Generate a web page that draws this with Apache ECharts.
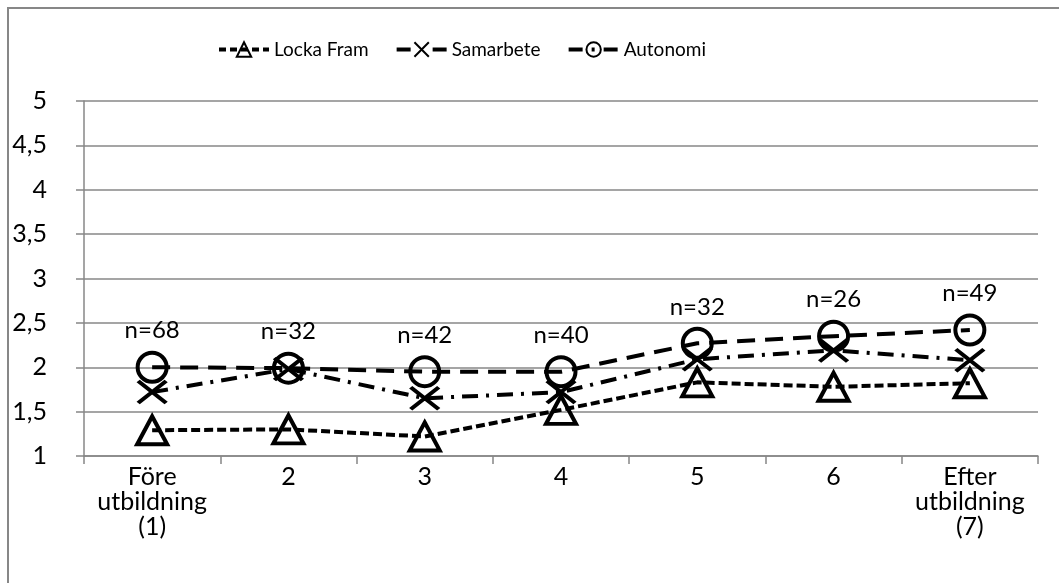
<!DOCTYPE html>
<html>
<head>
<meta charset="utf-8">
<script src="https://cdn.jsdelivr.net/npm/echarts@6/dist/echarts.min.js"></script>
<style>
  html, body { margin: 0; padding: 0; background: #fff; }
  #chart { width: 1059px; height: 583px; }
</style>
</head>
<body>
<div id="chart"></div>
<script>
// data
var categories = ['Före\nutbildning\n(1)', '2', '3', '4', '5', '6', 'Efter\nutbildning\n(7)'];
var lockaFram = [1.29, 1.30, 1.22, 1.52, 1.83, 1.78, 1.82];
var samarbete = [1.72, 1.98, 1.65, 1.72, 2.09, 2.19, 2.08];
var autonomi = [2.00, 1.99, 1.95, 1.95, 2.27, 2.35, 2.42];
var nLabels = ['n=68', 'n=32', 'n=42', 'n=40', 'n=32', 'n=26', 'n=49'];
var yTicks = { min: 1, max: 5, step: 0.5 };

var font = 'Lato, "Open Sans", sans-serif';
var gray = '#878787';
var crossPath = 'path://M0,0L10,10M10,0L0,10';
var markerStyle = { color: 'transparent', borderColor: '#000', borderWidth: 4 };

var dom = document.getElementById('chart');
var myChart = echarts.init(dom, null, { renderer: 'canvas' });

var option = {
  animation: false,
  textStyle: { fontFamily: font, color: '#000' },
  graphic: [{
    type: 'rect',
    shape: { x: 8, y: 8, width: 1070, height: 600 },
    style: { fill: 'none', stroke: gray, lineWidth: 2 },
    silent: true
  }],
  legend: {
    top: 35,
    left: 212,
    itemWidth: 50,
    itemHeight: 18,
    itemGap: 26,
    textStyle: { fontSize: 19, color: '#000', fontFamily: font },
    data: [
      { name: 'Locka Fram', lineStyle: { type: [7, 4], width: 4 } },
      { name: 'Samarbete', lineStyle: { type: [14, 22], width: 4 } },
      { name: 'Autonomi', lineStyle: { type: [14, 9, 3, 9], width: 4 } }
    ]
  },
  grid: { left: 84, right: 21, top: 101, bottom: 127 },
  xAxis: {
    type: 'category',
    data: categories,
    boundaryGap: true,
    axisLine: { lineStyle: { color: gray, width: 1.5 } },
    axisTick: { show: true, length: 8, lineStyle: { color: gray, width: 1.5 } },
    axisLabel: {
      color: '#000', fontSize: 25, lineHeight: 25, margin: 8,
      fontFamily: font, interval: 0
    }
  },
  yAxis: {
    type: 'value',
    min: yTicks.min,
    max: yTicks.max,
    interval: yTicks.step,
    axisLine: { show: true, lineStyle: { color: gray, width: 1.5 } },
    axisTick: { show: true, length: 8, lineStyle: { color: gray, width: 1.5 } },
    splitLine: { lineStyle: { color: gray, width: 1.5 } },
    axisLabel: {
      color: '#000', fontSize: 25, margin: 37, fontFamily: font,
      formatter: function (v) { return String(v).replace('.', ','); }
    }
  },
  series: [
    {
      name: 'Locka Fram',
      type: 'line',
      data: lockaFram,
      symbol: 'triangle',
      symbolSize: [30, 28],
      itemStyle: markerStyle,
      lineStyle: { color: '#000', width: 4, type: [9, 4] },
      z: 3
    },
    {
      name: 'Samarbete',
      type: 'line',
      data: samarbete,
      symbol: crossPath,
      symbolSize: [28, 22],
      itemStyle: markerStyle,
      lineStyle: { color: '#000', width: 4, type: [16, 8, 3, 8] },
      z: 3
    },
    {
      name: 'Autonomi',
      type: 'line',
      data: autonomi,
      symbol: 'circle',
      symbolSize: 29,
      itemStyle: markerStyle,
      lineStyle: { color: '#000', width: 4, type: [18, 10] },
      label: {
        show: true,
        position: 'top',
        distance: 8,
        fontSize: 24,
        color: '#000',
        fontFamily: font,
        formatter: function (p) { return nLabels[p.dataIndex]; }
      },
      z: 3
    }
  ]
};

myChart.setOption(option);
window.addEventListener('resize', myChart.resize);
</script>
</body>
</html>
